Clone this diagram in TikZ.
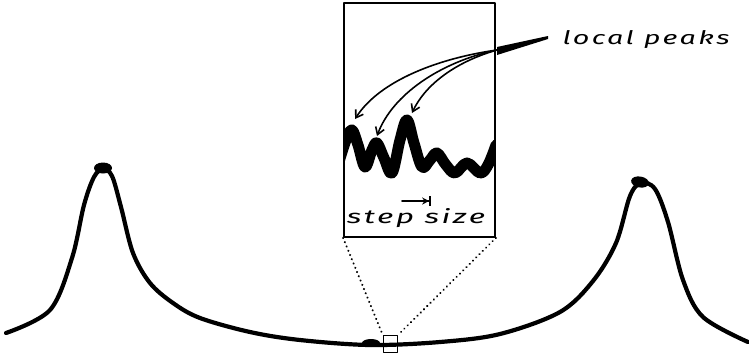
\documentclass[tikz,border=0pt]{standalone}
\usepackage{fontspec}
\newfontfamily\hand{Fira Sans}[LetterSpace=8]
\usetikzlibrary{arrows.meta}
\begin{document}
\begin{tikzpicture}[x=1pt,y=-1pt,line cap=round,line join=round,
  curve/.style={line width=4.2pt},
  wiggle/.style={line width=11pt},
  frame/.style={line width=1.8pt},
  guide/.style={line width=2.2pt,dash pattern=on 0.1pt off 4.5pt},
  peakarrow/.style={line width=1.6pt,-{Straight Barb[length=7pt,width=9pt]}},
  handtext/.style={font=\hand\itshape\fontsize{19}{19}\selectfont,inner sep=0pt}]
\useasboundingbox (0,0) rectangle (749,357);
% main landscape
\draw[curve] plot[smooth,tension=0.55] coordinates {
 (6,333) (50,310) (72,258) (84,205) (94,177) (103,169) (112,176) (121,207)
 (133,253) (150,283) (173,303) (200,318) (250,332) (300,340) (370,345)
 (440,342) (500,334) (560,312) (593,281) (616,243) (630,196) (641,183)
 (655,189) (668,222) (683,280) (703,317) (748,342)};
\fill (103,168) ellipse [x radius=9pt,y radius=5.5pt];
\fill[rotate around={-10:(640,182)}] (640,182) ellipse [x radius=9pt,y radius=5.5pt];
% zoom window
\node[draw,frame,minimum width=151pt,minimum height=234pt,inner sep=0pt] (win) at (419.5,120) {};
\begin{scope}
\clip (345,3) rectangle (494,237);
\draw[wiggle] plot[smooth,tension=0.6] coordinates {
 (338,165) (346,140) (352,130) (358,145) (365,167) (372,150) (377,143) (384,158)
 (392,173) (400,140) (407,120) (414,143) (422,167) (430,160) (437,153) (446,165) (455,173)
 (467,163) (480,173) (488,165) (496,145)};
\end{scope}
% bottom sample box and blob
\node[draw,line width=1.8pt,minimum width=14pt,minimum height=17pt,inner sep=0pt] (samp) at (390.5,344) {};
\fill (371,343) ellipse [x radius=9pt,y radius=4pt];
\draw[guide] (win.south west) -- (samp.north west);
\draw[guide] (win.south east) -- (samp.north east);
% labels and arrows
\node[handtext] (lp) at (646,40) {\resizebox{167pt}{14pt}{local peaks}};
\coordinate (conv) at (497,50);
\fill (497,47) -- (548,36) -- (548,39) -- (497,55) -- cycle;
\coordinate (p1) at (355,119);
\coordinate (p2) at (377,136);
\coordinate (p3) at (412,113);
\draw[peakarrow] (conv) .. controls (440,58) and (380,80) .. (p1);
\draw[peakarrow] (conv) .. controls (440,62) and (392,95) .. (p2);
\draw[peakarrow] (conv) .. controls (455,62) and (425,85) .. (p3);
\node[handtext] (ss) at (416,218) {\resizebox{138pt}{15pt}{step size}};
\coordinate (sa) at (402,201);
\coordinate (sb) at (431,201);
\draw[line width=1.8pt,-{Stealth[length=7pt,width=7pt] Bar[width=10pt]}] (sa) -- (sb);
\end{tikzpicture}
\end{document}
